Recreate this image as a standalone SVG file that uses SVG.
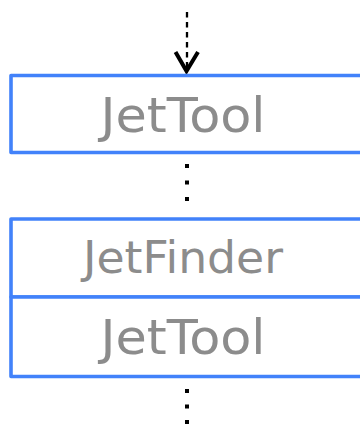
<svg xmlns="http://www.w3.org/2000/svg" width="360" height="425" viewBox="0 0 360 425">
<style>
.box{fill:#fff;stroke:#4282fa;stroke-width:3.6;stroke-linejoin:round}
.lbl{font-family:"DejaVu Sans",sans-serif;fill:#8c8c8c;text-anchor:middle}
.dots{stroke:#000;stroke-width:4;fill:none}
</style>
<rect width="360" height="425" fill="#fff"/>
<g id="connectors">
<line x1="187" y1="12" x2="187" y2="68" stroke="#000" stroke-width="2.3" stroke-dasharray="5.5 4.5"/>
<polyline points="175.5,52 186.5,71 198,52" fill="none" stroke="#000" stroke-width="4" stroke-linejoin="miter"/>
<line class="dots" x1="187" y1="164" x2="187" y2="202" stroke-dasharray="4 12.5"/>
<line class="dots" x1="187" y1="389" x2="187" y2="425" stroke-dasharray="4 11.5"/>
</g>
<g id="jettool1">
<rect class="box" x="11" y="75.5" width="360" height="77"/>
<text class="lbl" x="183" y="132" font-size="48" textLength="165" lengthAdjust="spacingAndGlyphs">JetTool</text>
</g>
<g id="jetfinder">
<rect class="box" x="11" y="219" width="360" height="78"/>
<text class="lbl" x="183" y="273" font-size="45" textLength="200" lengthAdjust="spacingAndGlyphs">JetFinder</text>
</g>
<g id="jettool2">
<rect class="box" x="11" y="297" width="360" height="79.5"/>
<text class="lbl" x="183" y="354" font-size="48" textLength="165" lengthAdjust="spacingAndGlyphs">JetTool</text>
</g>
</svg>
